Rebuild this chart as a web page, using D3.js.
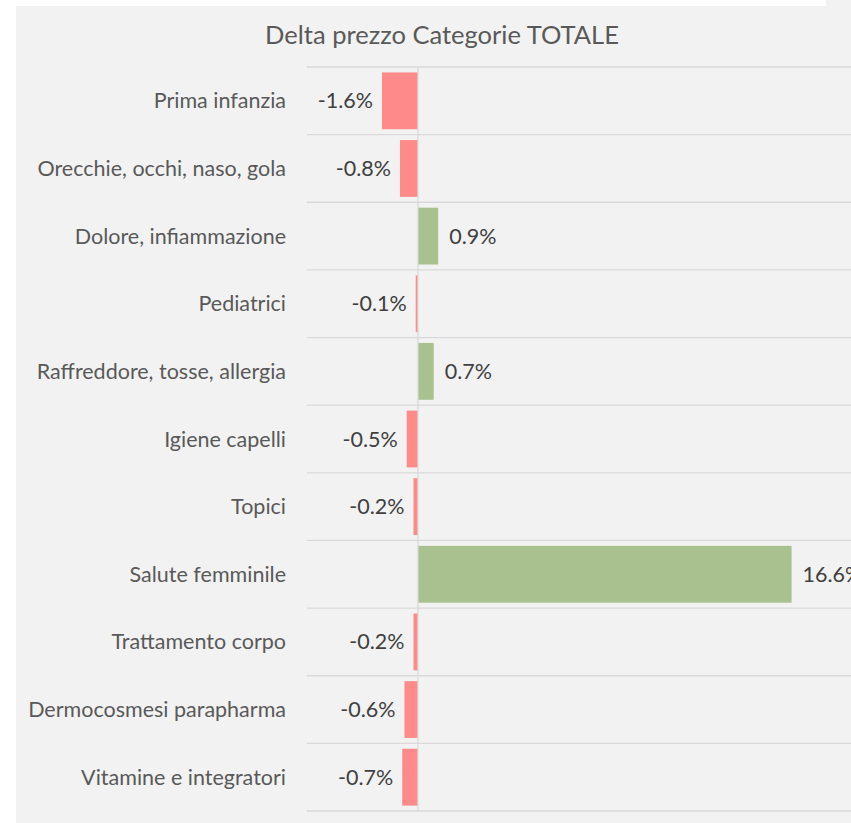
<!DOCTYPE html>
<html lang="it">
<head>
<meta charset="utf-8" />
<style>
  body { margin: 0; background: #fff; }
  text { font-family: Lato, "Open Sans", sans-serif; }
</style>
</head>
<body>
<div id="chart"></div>
<script src="https://cdn.jsdelivr.net/npm/d3@7"></script>
<script>
// data
const categories = ["Prima infanzia", "Orecchie, occhi, naso, gola", "Dolore, infiammazione",
  "Pediatrici", "Raffreddore, tosse, allergia", "Igiene capelli", "Topici",
  "Salute femminile", "Trattamento corpo", "Dermocosmesi parapharma", "Vitamine e integratori"];
const deltas = [-1.6, -0.8, 0.9, -0.1, 0.7, -0.5, -0.2, 16.6, -0.2, -0.6, -0.7];
const title = "Delta prezzo Categorie TOTALE";

const W = 851, H = 823;
const svg = d3.select("#chart").append("svg").attr("width", W).attr("height", H);

// panel background
svg.append("rect").attr("x", 16).attr("y", 0).attr("width", W - 16).attr("height", H).attr("fill", "#f2f2f2");
svg.append("rect").attr("x", 16).attr("y", 0).attr("width", 810).attr("height", 6).attr("fill", "#fff");

svg.append("text").attr("x", 442).attr("y", 44).attr("text-anchor", "middle")
  .attr("font-size", 25.5).attr("fill", "#595959").text(title);

const x = d3.scaleLinear().domain([-4.93, 19.24]).range([307, 851]);
const y = d3.scaleBand().domain(categories).range([67, 811]).paddingInner(0.16).paddingOuter(0.08);
const step = y.step();

// horizontal grid lines between rows
const gridY = d3.range(categories.length + 1).map(i => 67 + i * step);
svg.append("g").selectAll("line").data(gridY).join("line")
  .attr("x1", 307).attr("x2", W).attr("y1", d => d).attr("y2", d => d)
  .attr("stroke", "#d9d9d9").attr("stroke-width", 1.3);

const rows = categories.map((c, i) => ({ c, v: deltas[i] }));

svg.append("g").selectAll("rect").data(rows).join("rect")
  .attr("x", d => x(Math.min(0, d.v)))
  .attr("y", d => y(d.c))
  .attr("width", d => Math.abs(x(d.v) - x(0)))
  .attr("height", y.bandwidth())
  .attr("fill", d => d.v < 0 ? "#fe8a8a" : "#a8c18f");

// zero line
svg.append("line").attr("x1", x(0)).attr("x2", x(0)).attr("y1", 67).attr("y2", 811)
  .attr("stroke", "#d9d9d9").attr("stroke-width", 1.3);

// category labels
svg.append("g").selectAll("text").data(rows).join("text")
  .attr("x", 286).attr("y", d => y(d.c) + y.bandwidth() / 2).attr("dy", "0.35em")
  .attr("text-anchor", "end").attr("font-size", 21.5).attr("fill", "#595959")
  .text(d => d.c);

// value labels
svg.append("g").selectAll("text").data(rows).join("text")
  .attr("x", d => d.v < 0 ? x(d.v) - 9 : x(d.v) + 11)
  .attr("y", d => y(d.c) + y.bandwidth() / 2).attr("dy", "0.35em")
  .attr("text-anchor", d => d.v < 0 ? "end" : "start")
  .attr("font-size", 21.5).attr("fill", "#404040")
  .text(d => d.v.toFixed(1) + "%");
</script>
</body>
</html>
